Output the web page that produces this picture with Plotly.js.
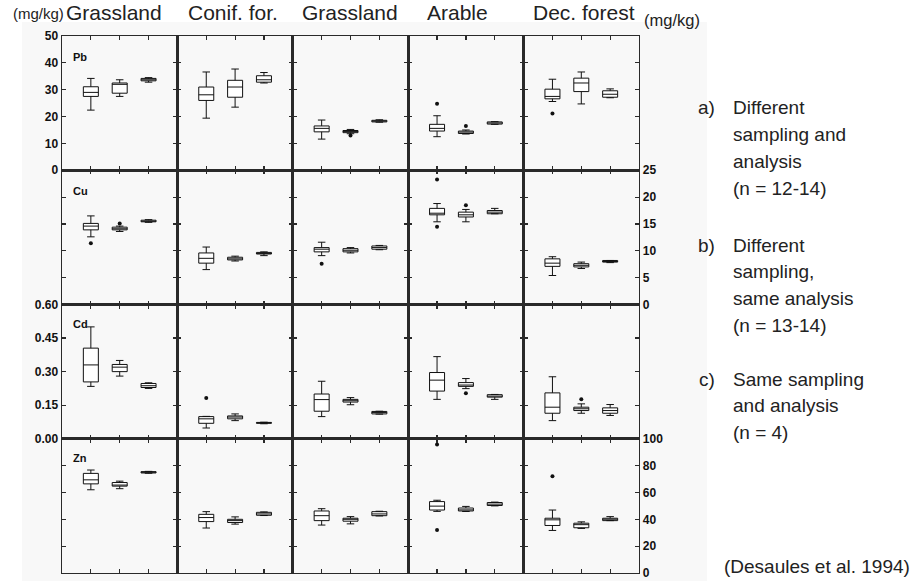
<!DOCTYPE html>
<html>
<head>
<meta charset="utf-8">
<script src="https://cdn.plot.ly/plotly-3.0.1.min.js"></script>
<style>html,body{margin:0;padding:0;background:#fff;}#chart{width:915px;height:581px;}</style>
</head>
<body>
<div id="chart"></div>
<script>
// ---------------- DATA ----------------
const landUses = ['Grassland', 'Conif. for.', 'Grassland', 'Arable', 'Dec. forest'];
const elements = ['Pb', 'Cu', 'Cd', 'Zn'];
const methodPos = [1, 2, 3]; // a) b) c)
// each land use: methods a,b,c -> [lowerfence, q1, median, q3, upperfence]
const pbBoxes = [
  [[22.4, 27.5, 29.0, 31.1, 34.2], [27.5, 28.7, 32.0, 32.5, 33.7], [32.8, 33.3, 33.7, 34.2, 34.5]],
  [[19.4, 26.0, 28.1, 31.0, 36.6], [23.5, 27.2, 31.0, 33.5, 37.7], [32.5, 32.8, 33.7, 35.2, 36.4]],
  [[11.6, 14.3, 15.6, 16.5, 18.7], [13.6, 14.0, 14.4, 14.8, 15.2], [17.9, 18.0, 18.3, 18.6, 18.8]],
  [[12.5, 14.6, 15.6, 17.1, 20.3], [13.5, 13.7, 14.2, 14.6, 15.0], [17.1, 17.2, 17.6, 18.0, 18.1]],
  [[25.6, 26.6, 27.5, 30.2, 33.9], [24.7, 29.3, 32.5, 34.3, 36.6], [27.0, 27.2, 28.3, 29.6, 30.3]]
];
const cuBoxes = [
  [[12.6, 13.9, 14.6, 15.1, 16.5], [13.6, 13.9, 14.1, 14.4, 14.6], [15.3, 15.4, 15.5, 15.7, 15.8]],
  [[6.5, 7.7, 8.6, 9.6, 10.7], [8.1, 8.3, 8.5, 8.8, 9.0], [9.1, 9.4, 9.5, 9.7, 9.8]],
  [[9.1, 9.8, 10.3, 10.6, 11.6], [9.6, 9.8, 10.1, 10.4, 10.6], [10.2, 10.3, 10.6, 10.9, 11.0]],
  [[15.4, 16.7, 17.0, 17.9, 18.8], [15.4, 16.3, 16.7, 17.2, 17.7], [16.9, 16.9, 17.2, 17.5, 17.9]],
  [[5.4, 7.1, 7.7, 8.5, 8.9], [6.7, 7.0, 7.3, 7.6, 7.9], [7.8, 7.9, 8.0, 8.2, 8.2]]
];
const cdBoxes = [
  [[0.234, 0.254, 0.33, 0.405, 0.50], [0.28, 0.30, 0.32, 0.332, 0.35], [0.225, 0.229, 0.237, 0.247, 0.25]],
  [[0.048, 0.069, 0.089, 0.099, 0.10], [0.081, 0.089, 0.097, 0.102, 0.111], [0.067, 0.069, 0.071, 0.073, 0.074]],
  [[0.099, 0.123, 0.175, 0.20, 0.257], [0.152, 0.164, 0.17, 0.176, 0.184], [0.110, 0.111, 0.117, 0.122, 0.123]],
  [[0.176, 0.213, 0.262, 0.296, 0.367], [0.224, 0.234, 0.24, 0.251, 0.269], [0.176, 0.186, 0.19, 0.197, 0.198]],
  [[0.081, 0.114, 0.141, 0.205, 0.277], [0.114, 0.126, 0.134, 0.141, 0.156], [0.104, 0.114, 0.126, 0.138, 0.153]]
];
const znBoxes = [
  [[62.0, 66.4, 69.4, 74.2, 76.7], [62.8, 64.7, 65.5, 67.4, 68.4], [74.3, 74.5, 75.0, 75.5, 75.7]],
  [[33.5, 38.3, 41.3, 43.7, 45.7], [36.4, 37.6, 39.0, 40.0, 41.8], [42.8, 43.0, 44.0, 45.2, 45.5]],
  [[35.7, 39.0, 42.7, 46.2, 47.9], [36.6, 38.6, 40.0, 40.8, 42.0], [42.5, 42.7, 44.0, 45.7, 46.0]],
  [[45.9, 46.9, 49.8, 53.2, 54.2], [45.8, 46.2, 47.0, 48.4, 49.6], [50.0, 50.3, 51.3, 52.5, 52.8]],
  [[31.7, 35.4, 39.6, 40.8, 46.9], [33.2, 33.7, 36.0, 37.1, 38.1], [39.0, 39.0, 40.1, 40.8, 42.0]]
];
// outliers: [landUseIndex, methodPosition, value]
const pbOutliers = [[2, 2, 12.9], [3, 1, 24.8], [3, 2, 16.5], [4, 1, 21.1]];
const cuOutliers = [[0, 1, 11.4], [0, 2, 15.1], [2, 1, 7.6], [3, 1, 23.3], [3, 1, 14.5], [3, 2, 18.5]];
const cdOutliers = [[1, 1, 0.182], [3, 2, 0.203], [4, 2, 0.176]];
const znOutliers = [[3, 1, 95.7], [3, 1, 32.0], [4, 1, 72.0]];

const yRanges = [[0, 50], [0, 25], [0, 0.6], [0, 100]];
const yDticks = [10, 5, 0.15, 20];
const yTickFormats = ['d', 'd', '.2f', 'd'];
const yLabelSide = ['left', 'right', 'left', 'right'];

const legendMarks = ['a)', 'b)', 'c)'];
const legendLines = [
  ['Different', 'sampling and', 'analysis', '(n = 12-14)'],
  ['Different', 'sampling,', 'same analysis', '(n = 13-14)'],
  ['Same sampling', 'and analysis', '(n = 4)']
];
const unitLabel = '(mg/kg)';
const sourceLabel = '(Desaules et al. 1994)';

// ---------------- BUILD ----------------
const allBoxes = [pbBoxes, cuBoxes, cdBoxes, znBoxes];
const allOutliers = [pbOutliers, cuOutliers, cdOutliers, znOutliers];

const PL = 62, PR = 639, PT = 36, PB = 573, FW = 915, FH = 581;
const px = p => (p - PL) / (PR - PL);
const py = p => (PB - p) / (PB - PT);

const FONT = 'Liberation Sans, Arial, Helvetica, sans-serif';
const AX = '#2a2a2a';

const traces = [];
const layout = {
  width: FW, height: FH,
  margin: {l: PL, r: FW - PR, t: PT, b: FH - PB, pad: 0},
  paper_bgcolor: '#ffffff',
  plot_bgcolor: 'rgba(0,0,0,0)',
  showlegend: false,
  boxmode: 'overlay',
  font: {family: FONT, color: '#222'},
  annotations: [],
  shapes: [{
    type: 'rect', xref: 'paper', yref: 'paper', layer: 'below',
    x0: px(22), x1: px(707), y0: py(22), y1: py(581),
    fillcolor: '#f8f8f8', line: {width: 0}
  }]
};

for (let r = 0; r < 4; r++) {
  for (let c = 0; c < 5; c++) {
    const k = r * 5 + c + 1;
    const sfx = k === 1 ? '' : String(k);
    const xa = 'xaxis' + sfx, ya = 'yaxis' + sfx;
    const showY = (yLabelSide[r] === 'left' && c === 0) || (yLabelSide[r] === 'right' && c === 4);
    layout[xa] = {
      domain: [c / 5, (c + 1) / 5], anchor: 'y' + sfx,
      range: [0, 4], tickvals: methodPos, ticks: 'inside', ticklen: 4, tickwidth: 1.2, tickcolor: AX,
      showticklabels: false, showgrid: false, zeroline: false,
      showline: true, mirror: 'ticks', linecolor: AX, linewidth: 1.4, fixedrange: true
    };
    layout[ya] = {
      domain: [1 - (r + 1) / 4, 1 - r / 4], anchor: 'x' + sfx,
      range: yRanges[r], dtick: yDticks[r], tick0: 0, tickformat: yTickFormats[r],
      ticks: 'inside', ticklen: 4, tickwidth: 1.2, tickcolor: AX,
      showticklabels: showY, side: showY ? yLabelSide[r] : 'left',
      tickfont: {family: FONT, size: 12, weight: 'bold', color: '#111'},
      showgrid: false, zeroline: false,
      showline: true, mirror: 'ticks', linecolor: AX, linewidth: 1.4, fixedrange: true
    };
    const st = allBoxes[r][c];
    traces.push({
      type: 'box', xaxis: 'x' + sfx, yaxis: 'y' + sfx,
      x: methodPos,
      lowerfence: st.map(s => s[0]), q1: st.map(s => s[1]), median: st.map(s => s[2]),
      q3: st.map(s => s[3]), upperfence: st.map(s => s[4]),
      width: 0.52, whiskerwidth: 0.5,
      fillcolor: 'rgba(255,255,255,1)', line: {color: '#111', width: 1},
      boxpoints: false, hoverinfo: 'skip'
    });
    const outs = allOutliers[r].filter(o => o[0] === c);
    if (outs.length) {
      traces.push({
        type: 'scatter', mode: 'markers', xaxis: 'x' + sfx, yaxis: 'y' + sfx,
        x: outs.map(o => o[1]), y: outs.map(o => o[2]),
        marker: {color: '#111', size: 4, symbol: 'circle'}, cliponaxis: false, hoverinfo: 'skip'
      });
    }
  }
}

// element labels
const elemY = [57, 191, 324, 458];
elements.forEach((e, r) => layout.annotations.push({
  xref: 'paper', yref: 'paper', x: px(80), y: py(elemY[r]), text: e, showarrow: false,
  xanchor: 'center', yanchor: 'middle', font: {family: FONT, size: 11, weight: 'bold', color: '#111'}
}));

// column titles
const colTitleX = [114, 233, 350, 457, 584];
landUses.forEach((t, c) => layout.annotations.push({
  xref: 'paper', yref: 'paper', x: px(colTitleX[c]), y: py(12), text: t, showarrow: false,
  xanchor: 'center', yanchor: 'middle', font: {family: FONT, size: 21, color: '#222'}
}));
layout.annotations.push({
  xref: 'paper', yref: 'paper', x: px(66), y: py(14), text: unitLabel, showarrow: false,
  xanchor: 'right', yanchor: 'middle', font: {family: FONT, size: 15, color: '#222'}
});
layout.annotations.push({
  xref: 'paper', yref: 'paper', x: px(642), y: py(20), text: unitLabel, showarrow: false,
  xanchor: 'left', yanchor: 'middle', font: {family: FONT, size: 16.5, color: '#222'}
});

// legend blocks on the right
const blockTop = [108, 245, 379];
const lineGap = 26.8;
legendMarks.forEach((m, i) => {
  layout.annotations.push({
    xref: 'paper', yref: 'paper', x: px(717), y: py(blockTop[i]), text: m, showarrow: false,
    xanchor: 'right', yanchor: 'middle', font: {family: FONT, size: 19, color: '#222'}
  });
  legendLines[i].forEach((ln, j) => layout.annotations.push({
    xref: 'paper', yref: 'paper', x: px(731), y: py(blockTop[i] + j * lineGap), text: ln, showarrow: false,
    xanchor: 'left', yanchor: 'middle', font: {family: FONT, size: 19, color: '#222'}
  }));
});
layout.annotations.push({
  xref: 'paper', yref: 'paper', x: px(912), y: py(566), text: sourceLabel, showarrow: false,
  xanchor: 'right', yanchor: 'middle', font: {family: FONT, size: 19, color: '#222'}
});

Plotly.newPlot('chart', traces, layout, {displayModeBar: false, staticPlot: true});
</script>
</body>
</html>
